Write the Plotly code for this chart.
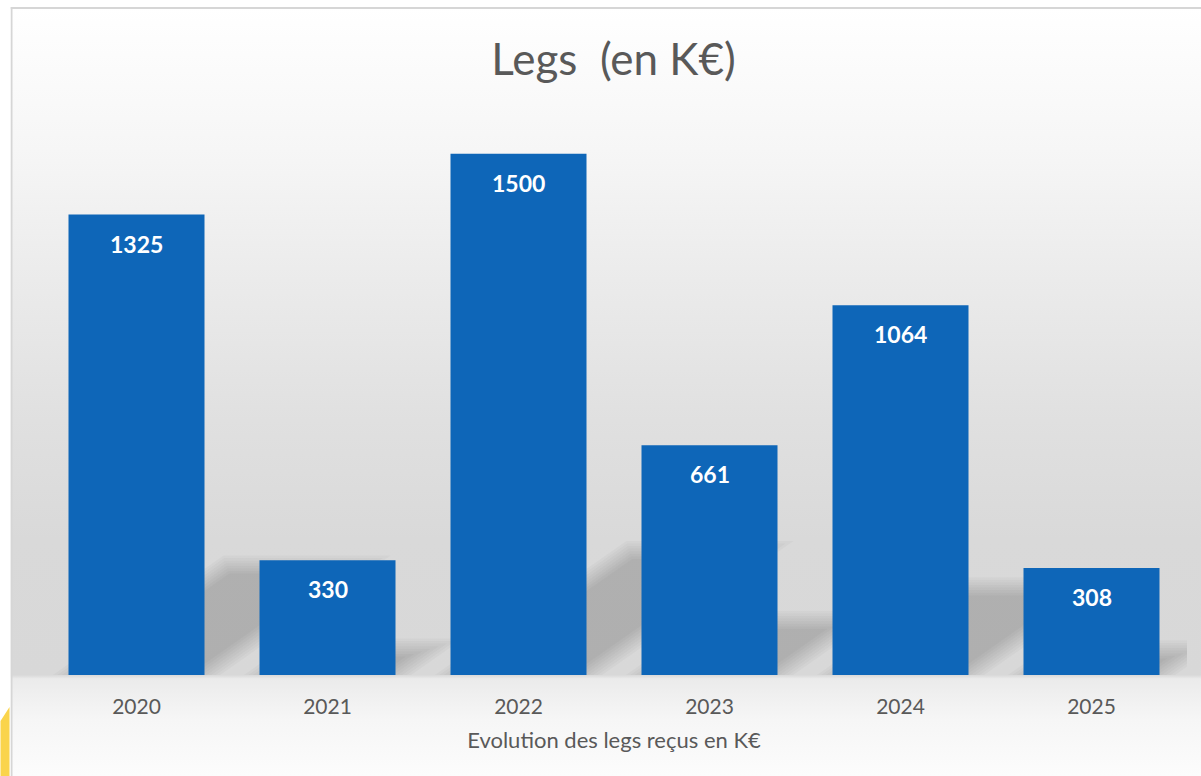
import base64
import plotly.graph_objects as go

# ---- data ----
years = ["2020", "2021", "2022", "2023", "2024", "2025"]
legs = [1325, 330, 1500, 661, 1064, 308]
title_text = "Legs\u00a0\u00a0(en K€)"
axis_title = "Evolution des legs reçus en K€"

# ---- geometry ----
W, H = 1201, 776
ML, MR, MT, MB = 40.5, 14, 119, 101
PW, PH = W - ML - MR, H - MT - MB
BAR_W = 0.712
Y_MAX = 1600
FONT = "Lato"

def px2x(px):
    return (px - ML) / PW

def py2y(py):
    return (H - MB - py) / PH

idx = list(range(len(years)))
PPX = PW / len(years)   # px per category unit
PPY = PH / Y_MAX        # px per value unit

fig = go.Figure()

# perspective shadows (blurred approximation) on the base subplot
SH_S = 0.24     # shadow height / bar height
SH_M = 0.70     # screen slope of shadow sides
n_layers = 8
for k in range(n_layers):
    e = 9 - k * 18 / (n_layers - 1)     # px offset from +9 to -9
    alpha = 0.024
    for i, v in zip(idx, legs):
        hs_px = SH_S * v * PPY
        d_px = hs_px / SH_M
        side = 1.75 * e
        x0 = i - BAR_W / 2 - side / PPX
        x1 = i + BAR_W / 2 + side / PPX
        top_px = max(hs_px + e, 1)
        dd = (top_px / SH_M) / PPX
        fig.add_trace(go.Scatter(
            x=[x0, x1, x1 + dd, x0 + dd, x0],
            y=[0, 0, top_px / PPY, top_px / PPY, 0],
            mode="lines", fill="toself",
            fillcolor=f"rgba(0,0,0,{alpha})",
            line=dict(width=0), hoverinfo="skip", showlegend=False,
            xaxis="x", yaxis="y",
        ))

# bars on an overlaid subplot so they sit above the shadows
fig.add_trace(go.Bar(
    x=idx, y=legs, width=BAR_W,
    marker=dict(color="#0e66b8", line=dict(width=0)),
    hoverinfo="x+y", showlegend=False,
    xaxis="x2", yaxis="y2",
))

for i, v in zip(idx, legs):
    fig.add_annotation(
        x=i, y=v, xref="x2", yref="y2", text=f"<b>{v}</b>", showarrow=False,
        yanchor="middle", yshift=-29,
        font=dict(family=FONT, size=23, color="white"),
    )

# background gradient + border as an svg image
svg = f"""<svg xmlns="http://www.w3.org/2000/svg" width="1191" height="768" viewBox="0 0 1191 768" preserveAspectRatio="none">
<defs><linearGradient id="g" x1="0" y1="0" x2="0" y2="1">
<stop offset="0" stop-color="#ffffff"/>
<stop offset="{(150-8)/768:.4f}" stop-color="#f6f6f6"/>
<stop offset="{(280-8)/768:.4f}" stop-color="#ebebeb"/>
<stop offset="{(420-8)/768:.4f}" stop-color="#e0e0e0"/>
<stop offset="{(540-8)/768:.4f}" stop-color="#d9d9d9"/>
<stop offset="{(675-8)/768:.4f}" stop-color="#d8d8d8"/>
<stop offset="{(679-8)/768:.4f}" stop-color="#ebebeb"/>
<stop offset="{(720-8)/768:.4f}" stop-color="#f6f6f6"/>
<stop offset="1" stop-color="#fcfcfc"/>
</linearGradient></defs>
<rect x="0" y="0" width="1191" height="768" fill="url(#g)"/>
<line x1="0" y1="1" x2="1191" y2="1" stroke="#d6d6d6" stroke-width="2"/>
<line x1="1" y1="0" x2="1" y2="768" stroke="#d6d6d6" stroke-width="2"/>
</svg>"""
src = "data:image/svg+xml;base64," + base64.b64encode(svg.encode()).decode()

fig.add_layout_image(dict(
    source=src, xref="paper", yref="paper",
    x=px2x(10), y=py2y(7), sizex=1191 / PW, sizey=769 / PH,
    xanchor="left", yanchor="top", sizing="stretch", layer="below",
))

# yellow corner decoration
fig.add_shape(
    type="path", xref="paper", yref="paper",
    path=f"M {px2x(0)},{py2y(721)} L {px2x(9)},{py2y(707)} L {px2x(9)},{py2y(776)} L {px2x(0)},{py2y(776)} Z",
    fillcolor="#fad44b", line=dict(width=0), layer="above",
)

xr = [-0.5, len(years) - 0.5]
fig.update_layout(
    width=W, height=H,
    margin=dict(l=ML, r=MR, t=MT, b=MB, autoexpand=False),
    paper_bgcolor="white", plot_bgcolor="rgba(0,0,0,0)",
    title=dict(text=title_text, x=613.5 / W, xanchor="center",
               y=1 - 60 / H, yanchor="middle",
               font=dict(family=FONT, size=44, color="#595959")),
    xaxis=dict(
        tickmode="array", tickvals=idx, ticktext=years,
        range=xr,
        showgrid=False, zeroline=False, showline=False, ticks="",
        tickfont=dict(family=FONT, size=21, color="#595959"),
        ticklabelstandoff=17,
        title=dict(text=axis_title, standoff=15,
                   font=dict(family=FONT, size=22, color="#595959")),
        automargin=False, fixedrange=True,
    ),
    yaxis=dict(range=[0, Y_MAX], visible=False, showgrid=False, zeroline=False,
               automargin=False, fixedrange=True),
    xaxis2=dict(overlaying="x", range=xr, visible=False, fixedrange=True),
    yaxis2=dict(overlaying="y", range=[0, Y_MAX], visible=False, fixedrange=True),
    showlegend=False,
)

fig.write_html(
    "out.html",
    config={"displayModeBar": False},
    post_script="document.body.style.margin='0';document.body.style.overflow='hidden';",
)
